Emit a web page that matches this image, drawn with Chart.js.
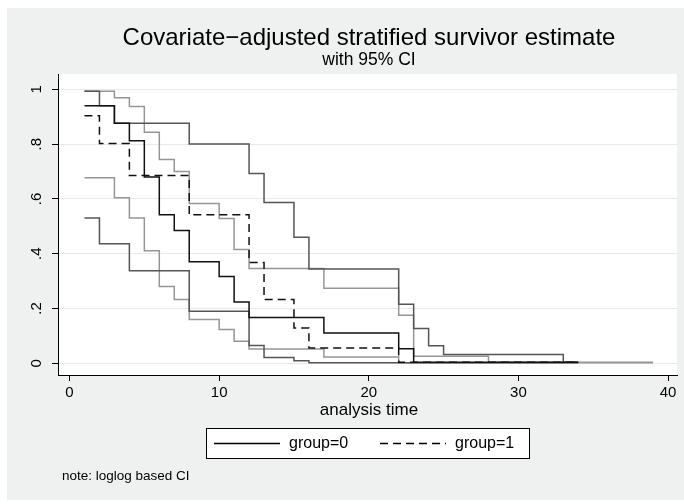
<!DOCTYPE html>
<html>
<head>
<meta charset="utf-8">
<title>Survivor estimate</title>
<script src="https://cdn.jsdelivr.net/npm/chart.js@4"></script>
<style>
  html, body { margin: 0; padding: 0; background: #fff; }
  canvas { display: block; }
</style>
</head>
<body>
<canvas id="surv" width="684" height="504"></canvas>
<script>
// step estimates: value holds from each time until the next one
const g0Times = [1, 3, 4, 5, 6, 7, 8, 10, 11, 12, 17, 22, 23, 34];
const g0Surv = [0.94, 0.876, 0.812, 0.68, 0.542, 0.485, 0.371, 0.317, 0.224, 0.167, 0.110, 0.053, 0.004, 0.004];
const g0UpTimes = [1, 2, 3, 8, 12, 13, 15, 16, 22, 23, 24, 25, 33, 34];
const g0Upper = [0.993, 0.94, 0.876, 0.80, 0.693, 0.587, 0.46, 0.344, 0.215, 0.127, 0.064, 0.032, 0.004, 0.004];
const g0LoTimes = [1, 2, 4, 8, 12, 13, 15, 16, 34];
const g0Lower = [0.53, 0.436, 0.338, 0.19, 0.065, 0.021, 0.009, 0.002, 0.002];

const g1Times = [1, 2, 4, 8, 12, 13, 15, 16, 22, 34];
const g1Surv = [0.904, 0.802, 0.685, 0.542, 0.368, 0.233, 0.129, 0.056, 0.004, 0.004];
const g1UpTimes = [1, 3, 4, 5, 6, 7, 8, 10, 11, 12, 17, 22, 23, 28, 39];
const g1Upper = [0.993, 0.969, 0.937, 0.843, 0.744, 0.70, 0.583, 0.528, 0.415, 0.346, 0.274, 0.175, 0.026, 0.004, 0.004];
const g1LoTimes = [1, 3, 4, 5, 6, 7, 8, 10, 11, 12, 17, 22, 39];
const g1Lower = [0.677, 0.604, 0.53, 0.411, 0.28, 0.233, 0.16, 0.123, 0.080, 0.052, 0.023, 0.002, 0.002];

const xTicks = [0, 10, 20, 30, 40];
const yTicks = [0, 0.2, 0.4, 0.6, 0.8, 1];
const yTickLabels = ['0', '.2', '.4', '.6', '.8', '1'];
const legendLabels = ['group=0', 'group=1'];

const FONT = '"Liberation Sans", Arial, Helvetica, sans-serif';
const BG = '#eff1f0';
const DASH = [8, 5];

const toPoints = (times, vals) => times.map((t, i) => ({ x: t, y: vals[i] }));

const stepSet = (label, times, vals, color, dash, order) => ({
  label,
  data: toPoints(times, vals),
  borderColor: color,
  borderWidth: 1.5,
  borderDash: dash || [],
  stepped: 'before',
  pointRadius: 0,
  fill: false,
  order
});

// grey frame, white plot region
const backdrop = {
  id: 'backdrop',
  beforeDraw(chart) {
    const { ctx, chartArea: a } = chart;
    ctx.save();
    ctx.fillStyle = '#ffffff';
    ctx.fillRect(0, 0, chart.width, chart.height);
    ctx.fillStyle = BG;
    ctx.fillRect(7, 8, chart.width - 7, chart.height - 12);
    ctx.fillStyle = '#ffffff';
    ctx.fillRect(a.left, a.top, a.right - a.left, a.bottom - a.top);
    ctx.restore();
  }
};

// titles, axis title, legend box and note
const annotations = {
  id: 'annotations',
  afterDraw(chart) {
    const { ctx } = chart;
    ctx.save();
    ctx.fillStyle = '#000';
    ctx.textAlign = 'center';
    ctx.textBaseline = 'middle';

    ctx.font = `24px ${FONT}`;
    ctx.fillText('Covariate\u2212adjusted stratified survivor estimate', 369, 38);
    ctx.font = `17.5px ${FONT}`;
    ctx.fillText('with 95% CI', 369, 60);
    ctx.font = `17px ${FONT}`;
    ctx.fillText('analysis time', 369, 410);

    // legend
    const bx = 206, by = 428, bw = 323, bh = 30;
    ctx.fillStyle = '#fff';
    ctx.fillRect(bx, by, bw, bh);
    ctx.strokeStyle = '#000';
    ctx.lineWidth = 1;
    ctx.strokeRect(bx + 0.5, by + 0.5, bw, bh);

    const ly = by + bh / 2 + 0.5;
    ctx.lineWidth = 1.5;
    ctx.beginPath();
    ctx.moveTo(214, ly);
    ctx.lineTo(280, ly);
    ctx.stroke();
    ctx.setLineDash(DASH);
    ctx.beginPath();
    ctx.moveTo(380, ly);
    ctx.lineTo(446, ly);
    ctx.stroke();
    ctx.setLineDash([]);

    ctx.fillStyle = '#000';
    ctx.textAlign = 'left';
    ctx.font = `16px ${FONT}`;
    ctx.fillText(legendLabels[0], 289, ly);
    ctx.fillText(legendLabels[1], 455, ly);

    ctx.font = `13.5px ${FONT}`;
    ctx.fillText('note: loglog based CI', 62, 476);
    ctx.restore();
  }
};

const chart = new Chart(document.getElementById('surv'), {
  type: 'line',
  data: {
    datasets: [
      stepSet('group=0', g0Times, g0Surv, '#111111', null, 0),
      stepSet('group=1', g1Times, g1Surv, '#111111', DASH, 0),
      stepSet('group=0 upper', g0UpTimes, g0Upper, '#555555', null, 1),
      stepSet('group=0 lower', g0LoTimes, g0Lower, '#555555', null, 1),
      stepSet('group=1 upper', g1UpTimes, g1Upper, '#969696', null, 2),
      stepSet('group=1 lower', g1LoTimes, g1Lower, '#969696', null, 2)
    ]
  },
  options: {
    responsive: false,
    animation: false,
    devicePixelRatio: 1,
    layout: { padding: { top: 74, right: 7, left: 0, bottom: 0 } },
    plugins: {
      legend: { display: false },
      tooltip: { enabled: false }
    },
    scales: {
      x: {
        type: 'linear',
        min: -0.77,
        max: 40.6,
        afterBuildTicks: (scale) => { scale.ticks = xTicks.map(v => ({ value: v })); },
        afterFit: (scale) => { scale.height = 129; },
        ticks: {
          color: '#000',
          font: { family: FONT, size: 15 },
          padding: 3,
          maxRotation: 0,
          callback: (v) => String(v)
        },
        grid: {
          drawOnChartArea: false,
          drawTicks: true,
          tickLength: 6,
          tickColor: '#000',
          lineWidth: 1
        },
        border: { display: true, color: '#000', width: 1 }
      },
      y: {
        type: 'linear',
        min: -0.0429,
        max: 1.056,
        afterBuildTicks: (scale) => { scale.ticks = yTicks.map(v => ({ value: v })); },
        afterFit: (scale) => { scale.width = 58; },
        ticks: {
          color: '#000',
          font: { family: FONT, size: 15 },
          minRotation: 90,
          maxRotation: 90,
          crossAlign: 'center',
          padding: 9,
          callback: (v) => {
            const i = yTicks.findIndex(t => Math.abs(t - v) < 1e-9);
            return i >= 0 ? yTickLabels[i] : '';
          }
        },
        grid: {
          color: '#e9e9e9',
          tickColor: '#000',
          tickLength: 6,
          lineWidth: 1
        },
        border: { display: true, color: '#000', width: 1 }
      }
    }
  },
  plugins: [backdrop, annotations]
});
</script>
</body>
</html>
